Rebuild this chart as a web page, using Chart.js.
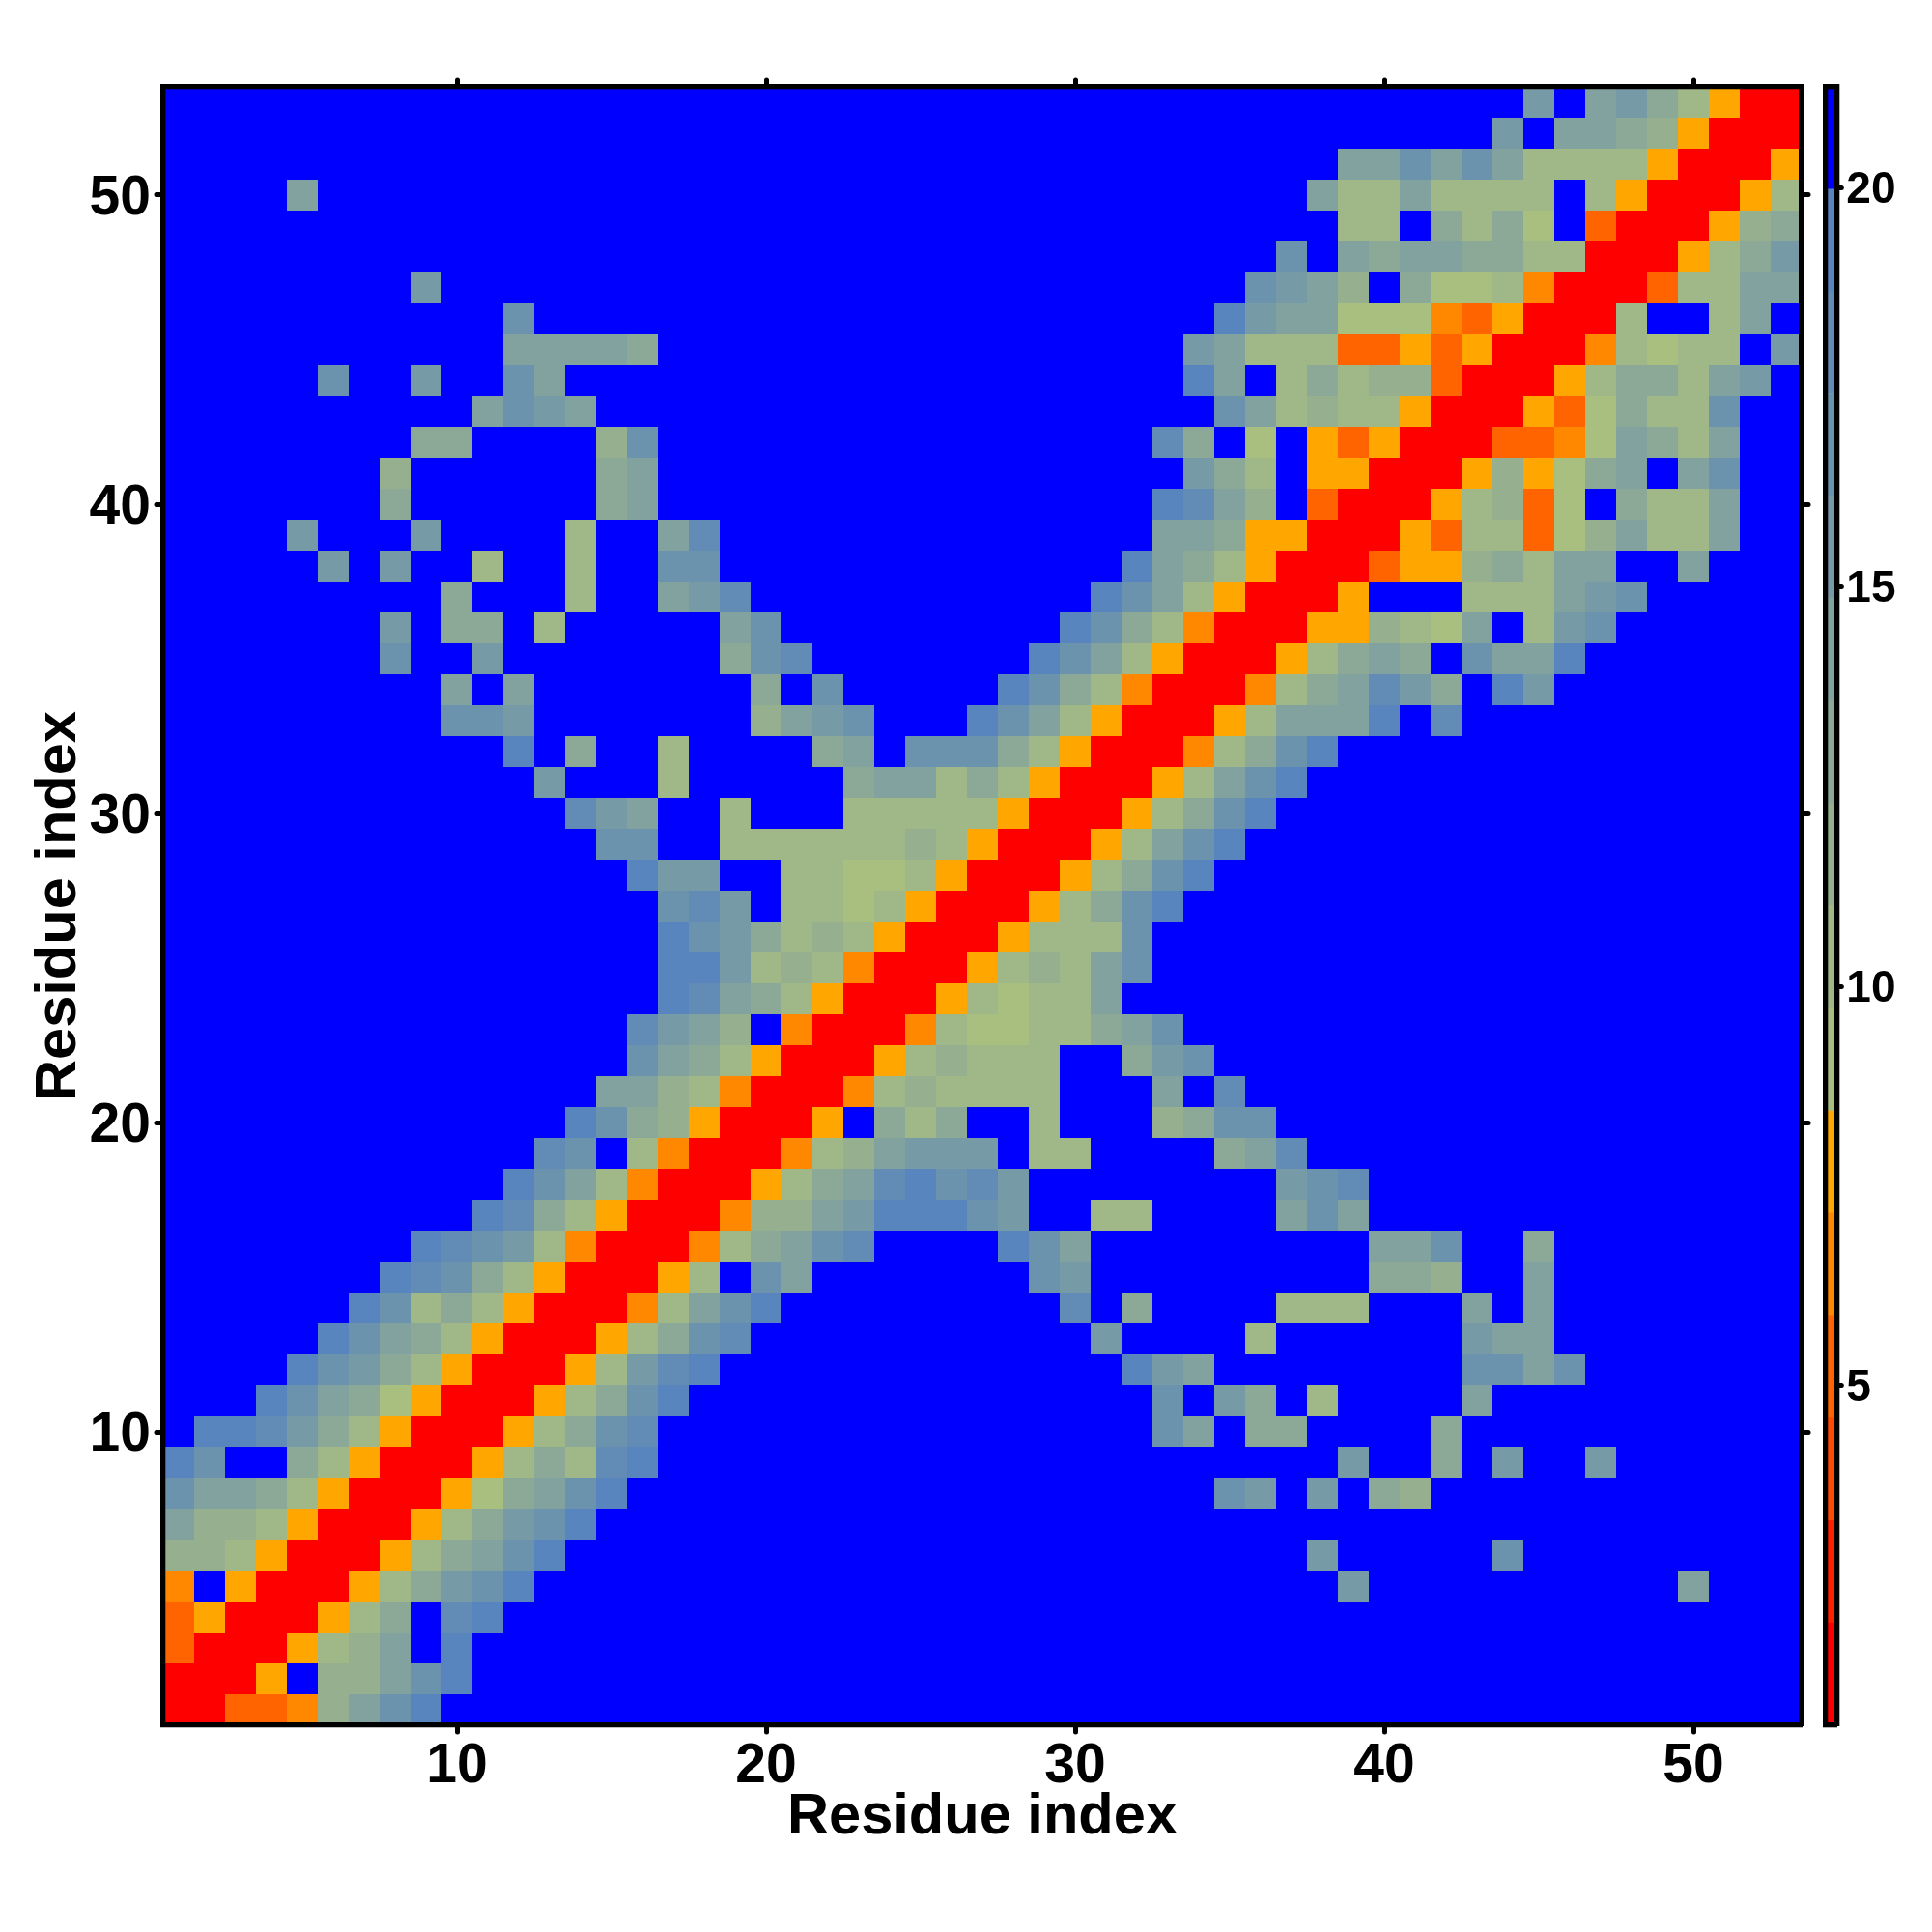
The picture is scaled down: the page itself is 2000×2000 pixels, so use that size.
<!DOCTYPE html>
<html>
<head>
<meta charset="utf-8">
<script src="https://cdn.jsdelivr.net/npm/chart.js@4"></script>
<style>
  html, body { margin: 0; background: #fff; }
  canvas { position: absolute; top: 0; }
  #map { left: 0; }
  #bar { left: 1870px; }
</style>
</head>
<body>
<canvas id="map" width="2000" height="2000"></canvas>
<canvas id="bar" width="130" height="2000"></canvas>
<script>
/* data: the map is symmetric, so only one side is listed.
   each run is [row, first column, band, band, ...], cells not listed are band 16 */
const residues = 53;
const bandRuns = [
  [1,1,1,1,4,4,5,9,11,13,15],
  [2,2,1,1,6,16,9,9,11,13,15],
  [3,3,1,1,6,8,9,11,16,15],
  [4,4,1,1,6,8,10,16,14,15],
  [5,5,1,1,6,8,10,12,13,15],[5,39,12],[5,50,11],
  [6,6,1,1,6,8,10,11,13,15],[6,38,12],[6,44,13],
  [7,7,1,1,6,8,10,12,13,15],
  [8,8,1,1,6,7,10,11,13,15],[8,35,13,12,16,12,16,10,9],
  [9,9,1,1,6,8,10,8,14,15],[9,39,12],[9,42,10],[9,44,12],[9,47,12],
  [10,10,1,1,6,8,10,13,14],[10,33,13,11,16,10,10],[10,42,10],
  [11,11,1,1,6,8,10,13,15],[11,33,13,16,12,10,16,8],[11,43,11],
  [12,12,1,1,6,8,12,14,15],[12,32,15,12,11],[12,43,13,13,11,13],
  [13,13,1,1,6,8,10,13,14],[13,31,12],[13,36,8],[13,43,12,11,11],
  [14,14,1,1,5,8,11,13,15],[14,30,14],[14,32,10],[14,37,8,8,8],[14,43,11],[14,45,11],
  [15,15,1,1,6,8,16,13,11],[15,29,13,12],[15,40,10,10,9],[15,45,11],
  [16,16,1,1,5,8,10,11,13,14],[16,28,15,13,11],[16,40,11,11,13],[16,45,10],
  [17,17,1,1,5,9,9,11,12,15,15,15,13,12],[17,31,8,8],[17,37,11,13,11],
  [18,18,1,1,6,8,10,11,14,15,13,14,12],[18,37,12,13,14],
  [19,19,1,1,5,8,9,11,12,12,12,16,8,8],[19,35,10,11,14],
  [20,20,1,1,6,16,10,8,10,16,16,8],[20,33,9,10,13,13],
  [21,21,1,1,5,8,9,8,8,8,8],[21,33,11],[21,35,14],
  [22,22,1,1,6,8,9,8,8,8],[22,32,10,12,13],
  [23,23,1,1,5,8,7,7,8,8,10,11,13],
  [24,24,1,1,6,8,7,8,8,11],
  [25,25,1,1,6,8,9,8,11,13],
  [26,26,1,1,6,8,8,8,13],
  [27,27,1,1,6,8,10,13,15],
  [28,28,1,1,6,8,10,13,15],
  [29,29,1,1,6,8,11,13,15],
  [30,30,1,1,6,8,10,13,15],
  [31,31,1,1,6,8,11,13,15],
  [32,32,1,1,5,8,10,13,15],
  [33,33,1,1,6,8,11,11,11,15,16,14],
  [34,34,1,1,5,8,10,11,14,12,10,16,15,12],
  [35,35,1,1,6,8,10,11,10,16,13,11,11,15],
  [36,36,1,1,6,6,9,8,7,11,16,8,12,13],
  [37,37,1,1,6,16,16,16,8,8,8,11,12,13],
  [38,38,1,1,4,6,6,9,10,8,11,11,16,16,11],
  [39,39,1,1,6,4,8,8,4,7,9,11,8,8,11],
  [40,40,1,1,6,8,9,4,7,16,10,8,8,11],
  [41,41,1,1,6,9,6,7,10,11,16,11,13],
  [42,42,1,1,4,4,5,7,11,10,8,11],
  [43,43,1,1,6,4,7,10,8,8,13],
  [44,44,1,1,6,8,10,10,8,11,12],
  [45,45,1,1,5,8,7,8,8,16,12],
  [46,46,1,1,8,16,16,8,11],
  [47,47,1,1,4,8,8,11,11],
  [48,48,1,1,6,8,10,12],
  [49,49,1,1,6,9,10],
  [50,50,1,1,6,8],
  [51,51,1,1,6],
  [52,52,1,1],
  [53,53,1]
];
const axisTicks = [10, 20, 30, 40, 50];
const barTicks = [5, 10, 15, 20];
const bandEdges = [0.75,2.03,3.32,4.6,5.88,7.16,8.44,9.73,11.01,12.29,13.57,14.86,16.14,17.42,18.7,19.98,21.26];
const bandColors = ['#ff0000','#ff2000','#ff4a00','#ff6400','#ff8800','#ffa600',
  '#a8bf80','#a0b887','#96b08f','#8ca997','#81a29f','#779ba6','#6c93ae','#628cb6','#5885bd','#0000ff'];
const xTitle = 'Residue index', yTitle = 'Residue index';

/* build the full grid from the runs */
const grid = Array.from({length: residues}, () => Array(residues).fill(16));
bandRuns.forEach(([row, col, ...bands]) => bands.forEach((b, i) => {
  grid[row-1][col-1+i] = b;
  grid[col-1+i][row-1] = b;
}));
const cells = grid.flatMap((cols, r) => cols.map((band, c) => ({x: c+1, y: r+1, band})));

const FONT = '"Liberation Sans", Arial, sans-serif';
/* round ticks, plain frame lines */
const caps = {
  id: 'caps',
  beforeDraw: c => { c.ctx.lineCap = 'round'; },
  beforeDatasetsDraw: c => { c.ctx.lineCap = 'butt'; }
};
const fixed = size => s => { if (s.isHorizontal()) s.height = size; else s.width = size; };
const setTicks = list => s => { s.ticks = list.map(value => ({value})); };

/* common look of the axes around the map */
const axis = (position, size, labels, extra={}, tickExtra={}) => ({
  type: 'linear', position, min: 0.5, max: residues + 0.5,
  afterBuildTicks: setTicks(axisTicks), afterFit: fixed(size),
  border: {display: true, color: '#000', width: 5.3, z: 1},
  grid: {drawOnChartArea: false, color: '#000', tickColor: '#000', tickWidth: 5, tickLength: 7},
  ticks: {display: labels, autoSkip: false, maxRotation: 0, color: '#000', padding: 6,
          font: {family: FONT, weight: 'bold', size: 57}, callback: v => v, ...tickExtra},
  ...extra
});

new Chart(document.getElementById('map'), {
  type: 'scatter',
  data: {datasets: [{
    data: cells,
    xAxisID: 'x', yAxisID: 'y',
    clip: 0,
    pointStyle: 'rect',
    pointBorderWidth: 0,
    pointRadius: c => {
      const s = c.chart.scales.x;
      return (s.getPixelForValue(1) - s.getPixelForValue(0)) * 0.5 / Math.SQRT1_2;
    },
    backgroundColor: c => bandColors[c.raw.band - 1]
  }]},
  options: {
    responsive: false, animation: false, devicePixelRatio: 1, events: [],
    layout: {padding: 0},
    plugins: {legend: {display: false}, tooltip: {enabled: false}},
    scales: {
      x: axis('bottom', 214, true, {title: {display: true, text: xTitle, color: '#000',
        font: {family: FONT, weight: 'bold', size: 59.6}, padding: {top: 0, bottom: 83}}}, {padding: 2}),
      x2: axis('top', 90, false),
      y: axis('left', 169, true, {title: {display: true, text: yTitle, color: '#000',
        font: {family: FONT, weight: 'bold', size: 59.6}, padding: {top: 26, bottom: 0}}}, {labelOffset: 4}),
      y2: axis('right', 135, false)
    }
  },
  plugins: [caps]
});

/* colour key */
const barBorder = {display: true, color: '#000', width: 5.3, z: 1};
new Chart(document.getElementById('bar'), {
  type: 'bar',
  data: {
    labels: [''],
    datasets: bandColors.map((color, i) => ({
      data: [[bandEdges[i], bandEdges[i+1]]],
      xAxisID: 'x', yAxisID: 'y',
      backgroundColor: color, borderWidth: 0,
      grouped: false, barPercentage: 1, categoryPercentage: 1
    }))
  },
  options: {
    responsive: false, animation: false, devicePixelRatio: 1, events: [],
    layout: {padding: 0},
    plugins: {legend: {display: false}, tooltip: {enabled: false}},
    scales: {
      x: {position: 'bottom', afterFit: fixed(214), border: barBorder,
          grid: {display: false}, ticks: {display: false}},
      xTop: {type: 'category', labels: [''], position: 'top', afterFit: fixed(90), border: barBorder,
          grid: {display: false}, ticks: {display: false}},
      y: {type: 'linear', position: 'right', min: bandEdges[0], max: bandEdges[16],
          afterBuildTicks: setTicks(barTicks), afterFit: fixed(98.7), border: barBorder,
          grid: {drawOnChartArea: false, tickColor: '#000', tickWidth: 5, tickLength: 5},
          ticks: {autoSkip: false, color: '#000', padding: 5, labelOffset: 3,
                  font: {family: FONT, weight: 'bold', size: 46}, callback: v => v}},
      yLeft: {type: 'linear', position: 'left', afterFit: fixed(19.3), border: barBorder,
          grid: {display: false}, ticks: {display: false}}
    }
  },
  plugins: [caps]
});
</script>
</body>
</html>
